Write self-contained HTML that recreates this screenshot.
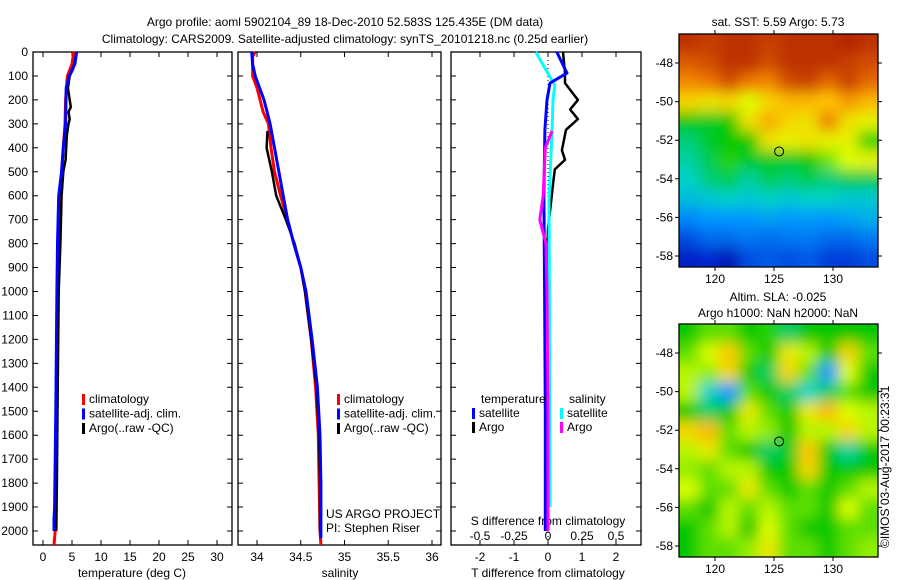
<!DOCTYPE html>
<html><head><meta charset="utf-8"><style>
body{margin:0;background:#fff;}
svg{display:block;font-family:"Liberation Sans",sans-serif;}
text{font-size:12px;fill:#000;}
</style></head><body>
<svg id="c" width="900" height="580" xmlns="http://www.w3.org/2000/svg">
<defs>
<filter id="bl" x="0" y="0" width="1" height="1"><feGaussianBlur stdDeviation="7"/></filter>
<clipPath id="cm1"><rect x="679" y="34" width="199" height="233"/></clipPath>
<clipPath id="cm2"><rect x="679" y="324" width="199" height="233"/></clipPath>
</defs>
<text x="345" y="26" text-anchor="middle">Argo profile: aoml 5902104_89 18-Dec-2010 52.583S 125.435E (DM data)</text>
<text x="345" y="43" text-anchor="middle">Climatology: CARS2009. Satellite-adjusted climatology: synTS_20101218.nc (0.25d earlier)</text>
<text x="778" y="26" text-anchor="middle">sat. SST: 5.59 Argo: 5.73</text>
<text x="778" y="301" text-anchor="middle">Altim. SLA: -0.025</text>
<text x="778" y="317" text-anchor="middle">Argo h1000: NaN h2000: NaN</text>
<text transform="translate(889,548) rotate(-90)">©IMOS 03-Aug-2017 00:23:31</text>
<text x="326" y="518">US ARGO PROJECT</text>
<text x="326" y="532">PI: Stephen Riser</text>
<g id="g"></g>
</svg>
<script>
// ---- data ----
const depthTick = [0,100,200,300,400,500,600,700,800,900,1000,1100,1200,1300,1400,1500,1600,1700,1800,1900,2000];
const tTicks = [0,5,10,15,20,25,30];
const sTicks = [34,34.5,35,35.5,36];
const sTickLabels = ['34','34.5','35','35.5','36'];
const dTTicks = [-2,-1,0,1,2];
const dSTicks = [-0.5,-0.25,0,0.25,0.5];
const dSTickLabels = ['-0.5','-0.25','0','0.25','0.5'];
const tClimDepth = [0,50,100,200,300,400,500,600,800,1000,1200,1500,1800,2000,2058];
const tClim = [5.3,5.0,4.2,3.9,3.8,3.5,3.2,2.9,2.7,2.5,2.4,2.3,2.2,2.1,1.9];
const tSatDepth = [0,50,100,150,300,400,500,600,800,1000,1500,1900,1950,2000];
const tSat = [5.8,5.5,4.5,4.0,3.9,3.5,3.2,2.7,2.5,2.4,2.2,2.0,1.9,1.9];
const tArgoDepth = [0,70,100,150,200,230,250,280,300,350,400,450,500,600,800,1000,1500,1800,2000];
const tArgo = [5.8,5.2,4.6,4.3,4.6,4.8,4.4,4.6,4.4,4.1,4.0,3.9,3.5,3.2,3.0,2.7,2.5,2.4,2.3];
const sClimDepth = [0,20,100,150,250,300,400,500,600,700,800,900,1000,1200,1400,1600,1800,2000,2058];
const sClim = [33.98,33.95,33.95,34.0,34.07,34.13,34.16,34.2,34.27,34.35,34.42,34.5,34.55,34.62,34.67,34.7,34.71,34.72,34.73];
const sSatDepth = [0,50,100,200,300,400,500,600,700,800,900,1000,1200,1400,1600,1800,2000,2030];
const sSat = [33.94,33.95,33.98,34.08,34.15,34.2,34.25,34.3,34.35,34.42,34.5,34.56,34.63,34.69,34.72,34.73,34.73,34.73];
const sArgoDepth = [330,400,500,600,700,800,900,1000,1200,1400,1600,1800,2000];
const sArgo = [34.12,34.11,34.17,34.22,34.33,34.43,34.5,34.55,34.62,34.68,34.71,34.72,34.72];
const dTSatDepth = [0,88,130,200,325,600,1000,1500,2000];
const dTSat = [0.26,0.56,0.06,-0.03,-0.09,-0.12,-0.1,-0.08,-0.08];
const dTArgoDepth = [0,88,130,200,240,280,325,410,450,490,550,740,1000,1500,2000];
const dTArgo = [0.44,0.5,0.5,0.88,0.65,0.88,0.53,0.41,0.5,0.2,0.15,0.0,-0.05,-0.05,-0.06];
const dSSatDepth = [0,75,138,200,325,620,1000,1500,1900];
const dSSat = [-0.09,-0.015,0.05,0.037,0.03,0.007,0.01,0.012,0.015];
const dSArgoDepth = [330,400,600,700,800,1000,1500,2000];
const dSArgo = [0.03,-0.02,-0.035,-0.06,-0.015,-0.007,0.0,0.0];
const sstGrid = [
[.9,.88,.9,.9,.88,.9,.9,.9,.92,.9],
[.84,.86,.9,.9,.86,.9,.9,.9,.88,.86],
[.78,.8,.86,.8,.78,.86,.88,.82,.88,.82],
[.68,.66,.68,.62,.68,.72,.72,.7,.76,.72],
[.5,.48,.5,.66,.74,.68,.66,.8,.66,.64],
[.44,.48,.5,.5,.66,.64,.66,.64,.64,.52],
[.42,.46,.52,.48,.48,.48,.5,.56,.62,.64],
[.4,.44,.46,.42,.46,.44,.46,.44,.46,.46],
[.36,.38,.4,.38,.4,.38,.4,.4,.38,.38],
[.28,.3,.3,.3,.32,.3,.31,.3,.32,.34],
[.2,.24,.24,.26,.24,.26,.26,.24,.24,.26],
[.12,.15,.08,.2,.22,.2,.22,.18,.18,.2]];
const slaGrid = [
[.5,.55,.55,.5,.52,.45,.5,.5,.5,.5],
[.55,.62,.7,.55,.5,.65,.6,.5,.68,.55],
[.6,.58,.68,.5,.45,.68,.55,.3,.62,.5],
[.6,.4,.3,.55,.5,.45,.4,.45,.55,.5],
[.5,.45,.5,.65,.55,.5,.65,.72,.62,.6],
[.68,.72,.55,.6,.58,.5,.6,.6,.68,.6],
[.6,.65,.55,.5,.45,.48,.7,.5,.42,.5],
[.58,.55,.6,.6,.5,.5,.68,.5,.5,.5],
[.62,.55,.55,.65,.55,.5,.55,.5,.55,.6],
[.55,.5,.6,.55,.6,.55,.55,.5,.62,.55],
[.5,.55,.6,.5,.62,.55,.5,.5,.55,.55],
[.5,.55,.55,.58,.65,.55,.55,.5,.55,.58]];
const lonTicks = [120,125,130];
const latTicks = [-48,-50,-52,-54,-56,-58];
const argoLon = 125.435, argoLat = -52.583;

// ---- helpers ----
const NS='http://www.w3.org/2000/svg';
const G=document.getElementById('g');
function mk(tag,attrs,parent){const e=document.createElementNS(NS,tag);for(const k in attrs)e.setAttribute(k,attrs[k]);(parent||G).appendChild(e);return e;}
const TOP=52,BOT=545;
const yD=d=>TOP+d*(531-TOP)/2000;
function lin(d0,d1,r0,r1){return v=>r0+(v-d0)*(r1-r0)/(d1-d0);}
const xT=lin(0,30,43,217);
const xS=lin(34,36,257,432);
const xdT=lin(0,2,548,616);
const xdS=lin(0,0.5,548,616);
const panels=[{x0:33,x1:232,name:'temperature-panel'},{x0:238,x1:441,name:'salinity-panel'},{x0:451,x1:641,name:'difference-panel'}];
panels.forEach((p,i)=>{
  const r=mk('rect',{x:p.x0,y:TOP,width:p.x1-p.x0,height:BOT-TOP,fill:'none',stroke:'#000','stroke-width':1.3});
  
  
  depthTick.forEach(d=>{
    const y=yD(d);
    const t=mk('path',{d:`M${p.x0},${y}h5M${p.x1},${y}h-5`,stroke:'#000','stroke-width':1});
    
    
    if(i===0){const l=mk('text',{x:28,y:y+4,'text-anchor':'end'});l.textContent=d;
      
      }
  });
});
function xticks(vals,labels,sc,ly,top,bot){
  vals.forEach((v,i)=>{const x=sc(v);
    let dd='';if(bot)dd+=`M${x},${BOT}v-5`;if(top)dd+=`M${x},${TOP}v5`;
    if(dd){const t=mk('path',{d:dd,stroke:'#000'});
      
      }
    const l=mk('text',{x:x,y:ly,'text-anchor':'middle'});l.textContent=labels[i];
    
    });
}
xticks(tTicks,tTicks.map(String),xT,561,true,true);
xticks(sTicks,sTickLabels,xS,561,true,true);
xticks(dTTicks,dTTicks.map(String),xdT,561,true,true);
xticks(dSTicks,dSTickLabels,xdS,540,false,false);
[['temperature (deg C)',132,577,'x-axis-title-temperature'],['salinity',340,577,'x-axis-title-salinity'],['T difference from climatology',548,577,'x-axis-title-t-diff'],['S difference from climatology',548,525,'s-diff-axis-title']].forEach(a=>{
  const l=mk('text',{x:a[1],y:a[2],'text-anchor':'middle'});l.textContent=a[0];
  
  });
const z=mk('path',{d:`M548,${TOP}V${BOT}`,stroke:'#000','stroke-dasharray':'1,3'});


function line(depths,vals,sc,col,w,name){
  const d=depths.map((dp,i)=>(i?'L':'M')+sc(vals[i]).toFixed(1)+','+yD(dp).toFixed(1)).join('');
  const p=mk('path',{d:d,fill:'none',stroke:col,'stroke-width':w,'stroke-linejoin':'round'});
  
  
}
line(tClimDepth,tClim,xT,'#f00',3,'temp-climatology-line');
line(tArgoDepth,tArgo,xT,'#000',2.5,'temp-argo-line');
line(tSatDepth,tSat,xT,'#00f',3,'temp-satellite-line');
line(sClimDepth,sClim,xS,'#f00',3,'sal-climatology-line');
line(sArgoDepth,sArgo,xS,'#000',2.5,'sal-argo-line');
line(sSatDepth,sSat,xS,'#00f',3,'sal-satellite-line');
line(dTArgoDepth,dTArgo,xdT,'#000',2.5,'t-diff-argo-line');
line(dSSatDepth,dSSat,xdS,'#0ff',3,'s-diff-satellite-line');
line(dTSatDepth,dTSat,xdT,'#00f',3,'t-diff-satellite-line');
line(dSArgoDepth,dSArgo,xdS,'#f0f',3,'s-diff-argo-line');
function legend(x,y,col,txt,name){
  const r=mk('rect',{x:x,y:y-9,width:3,height:11,fill:col});
  
  
  const t=mk('text',{x:x+7,y:y});t.textContent=txt;
  
  
}
[[82,'climatology','#f00'],[82,'satellite-adj. clim.','#00f'],[82,'Argo(..raw -QC)','#000']].forEach((a,i)=>legend(a[0],403+i*14.5,a[2],a[1],'temp-legend-'+i));
[[337,'climatology','#f00'],[337,'satellite-adj. clim.','#00f'],[337,'Argo(..raw -QC)','#000']].forEach((a,i)=>legend(a[0],403+i*14.5,a[2],a[1],'sal-legend-'+i));
{const t=mk('text',{x:481,y:403});t.textContent='temperature';
 const s=mk('text',{x:569,y:403});s.textContent='salinity';}
legend(472,417,'#00f','satellite','diff-legend-t-sat');
legend(472,431,'#000','Argo','diff-legend-t-argo');
legend(560,417,'#0ff','satellite','diff-legend-s-sat');
legend(560,431,'#f0f','Argo','diff-legend-s-argo');
// ---- maps ----
const cmapStops=[[0,[0,0,140]],[0.15,[0,40,210]],[0.3,[0,150,255]],[0.4,[0,210,200]],[0.5,[0,200,0]],[0.62,[220,255,0]],[0.7,[255,200,0]],[0.8,[240,120,0]],[0.9,[190,50,0]],[1,[150,0,0]]];
function cmap(v){
  v=Math.max(0,Math.min(1,v));
  for(let i=1;i<cmapStops.length;i++){
    if(v<=cmapStops[i][0]){const a=cmapStops[i-1],b=cmapStops[i],t=(v-a[0])/(b[0]-a[0]);
      return 'rgb('+a[1].map((c,k)=>Math.round(c+(b[1][k]-c)*t)).join(',')+')';}
  }
  return 'rgb(150,0,0)';
}
const xLon=lin(120,130,715,833);
function drawMap(grid,top,clip,name){
  const yLat=lin(-48,-58,top+29,top+222);
  const L=679,R=878,B=top+233;
  const rows=grid.length,cols=grid[0].length;
  const cw=(R-L)/cols,ch=(B-top)/rows;
  const gg=mk('g',{'clip-path':`url(#${clip})`});
  
  
  const inner=mk('g',{filter:'url(#bl)'},gg);
  grid.forEach((row,ri)=>row.forEach((v,ci)=>{
    const c=mk('rect',{x:L+ci*cw-(ci===0?20:0),y:top+ri*ch-(ri===0?20:0),width:cw+(ci===0||ci===cols-1?20:0)+0.5,height:ch+(ri===0||ri===rows-1?20:0)+0.5,fill:cmap(v)},inner);
    
    
  }));
  const fr=mk('rect',{x:L,y:top,width:R-L,height:B-top,fill:'none',stroke:'#000','stroke-width':1.3});
  
  
  lonTicks.forEach(v=>{const x=xLon(v);
    const t=mk('path',{d:`M${x},${top}v-4M${x},${B}v4`,stroke:'#000'});
    
    
    const l=mk('text',{x:x,y:B+16,'text-anchor':'middle'});l.textContent=v;
    
    });
  latTicks.forEach(v=>{const y=yLat(v);
    const t=mk('path',{d:`M${L},${y}h-4M${R},${y}h4`,stroke:'#000'});
    
    
    const l=mk('text',{x:L-6,y:y+4,'text-anchor':'end'});l.textContent=v;
    
    });
  const c=mk('circle',{cx:xLon(argoLon),cy:yLat(argoLat),r:4.5,fill:'none',stroke:'#000','stroke-width':1});
  
  
}
drawMap(sstGrid,34,'cm1','sst-map');
drawMap(slaGrid,324,'cm2','sla-map');
</script>
</body></html>
